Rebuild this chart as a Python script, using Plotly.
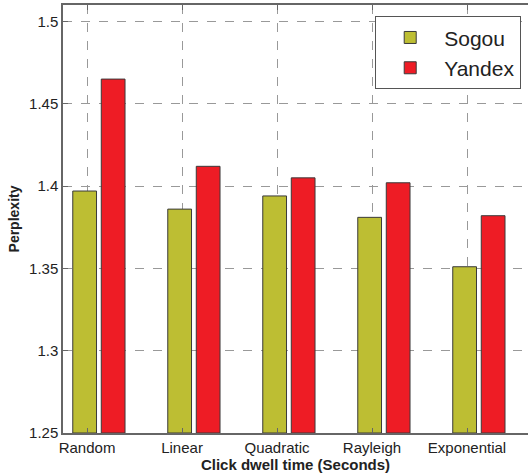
import plotly.graph_objects as go

categories = ["Random", "Linear", "Quadratic", "Rayleigh", "Exponential"]
sogou = [1.397, 1.386, 1.394, 1.381, 1.351]
yandex = [1.465, 1.412, 1.405, 1.402, 1.382]
y_ticks = [1.25, 1.3, 1.35, 1.4, 1.45, 1.5]
y_tick_labels = ["1.25", "1.3", "1.35", "1.4", "1.45", "1.5"]

xpos = list(range(len(categories)))
base = 1.25

fig = go.Figure()
fig.add_trace(go.Bar(
    x=xpos, y=[v - base for v in sogou], base=base, name="Sogou",
    width=0.25, offset=-0.15,
    marker=dict(color="#BDBE33", line=dict(color="#3a3a3a", width=1)),
))
fig.add_trace(go.Bar(
    x=xpos, y=[v - base for v in yandex], base=base, name="Yandex",
    width=0.25, offset=0.15,
    marker=dict(color="#EE1C25", line=dict(color="#3a3a3a", width=1)),
))

font_family = "Liberation Sans, Arial, sans-serif"
fig.update_layout(
    width=528, height=475,
    margin=dict(l=63, r=0, t=5, b=42),
    paper_bgcolor="white", plot_bgcolor="white",
    font=dict(family=font_family, color="#222", size=15),
    barmode="overlay",
    showlegend=True,
    legend=dict(
        x=0.671, y=0.974, xanchor="left", yanchor="top",
        bordercolor="#555", borderwidth=1.2, bgcolor="white",
        font=dict(size=21, family=font_family, color="#222"),
        itemwidth=58, tracegroupgap=2,
    ),
)
fig.update_xaxes(
    range=[-0.253, 4.642],
    tickvals=xpos, ticktext=categories,
    tickfont=dict(size=15),
    showline=True, linecolor="#666", linewidth=1.5, mirror="ticks",
    ticks="inside", ticklen=5, tickcolor="#666",
    showgrid=True, gridcolor="#999", griddash="dash", gridwidth=1,
    zeroline=False, automargin=False,
    title=dict(text="<b>Click dwell time (Seconds)</b>", font=dict(size=15), standoff=2),
)
fig.update_yaxes(
    range=[1.25, 1.51],
    tickvals=y_ticks, ticktext=y_tick_labels,
    tickfont=dict(size=15),
    showline=True, linecolor="#666", linewidth=1.5, mirror=False,
    ticks="inside", ticklen=5, tickcolor="#666",
    showgrid=True, gridcolor="#999", griddash="dash", gridwidth=1,
    zeroline=False, automargin=False,
    title=dict(text="<b>Perplexity</b>", font=dict(size=14), standoff=6),
)

fig.write_html(
    "out.html",
    config={"displayModeBar": False},
    post_script="document.body.style.margin='0';document.body.style.overflow='hidden';",
)
